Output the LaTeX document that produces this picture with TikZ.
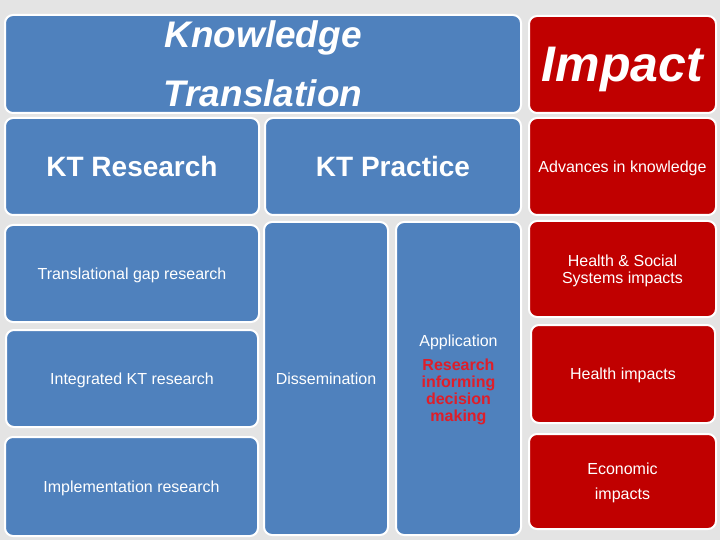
\documentclass[tikz,border=0pt]{standalone}
\usepackage{fontspec}
\setmainfont{Liberation Sans}
\definecolor{ktblue}{RGB}{79,129,189}
\definecolor{ktred}{RGB}{192,0,0}
\definecolor{ktpink}{RGB}{222,30,42}
\definecolor{ktback}{RGB}{228,228,228}
\newcommand{\rd}[1]{\textcolor{ktpink}{\bfseries #1}}
\begin{document}
\begin{tikzpicture}[x=1pt,y=-1pt,
    tile/.style={rectangle,rounded corners=8pt,draw=white,line width=2pt,
      inner sep=0pt,text=white,align=center,text depth=0pt,
      font=\fontsize{16}{17}\selectfont},
    bluetile/.style={tile,fill=ktblue},
    redtile/.style={tile,fill=ktred},
    bigtext/.style={font=\fontsize{28}{34}\selectfont\bfseries}]
  \useasboundingbox (0,0) rectangle (720,540);
  \fill[ktback] (0,0) rectangle (720,540);
  % blue side
  \node[bluetile,minimum width=516,minimum height=98,
    font=\fontsize{37}{59}\selectfont\bfseries\itshape] (kt) at (263,64)
    {Knowledge\\Translation};
  \node[bluetile,bigtext,minimum width=254,minimum height=97] (ktr) at (132,166.5) {KT Research};
  \node[bluetile,bigtext,minimum width=256,minimum height=97] (ktp) at (393,166.5) {KT Practice};
  \node[bluetile,minimum width=254,minimum height=97] (gap) at (132,273.5) {Translational gap research};
  \node[bluetile,minimum width=252,minimum height=97] (ikt) at (132,378.5) {Integrated KT research};
  \node[bluetile,minimum width=253,minimum height=99] (impl) at (131.5,486.5) {Implementation research};
  \node[bluetile,minimum width=124,minimum height=313] (dis) at (326,378.5) {Dissemination};
  \node[bluetile,minimum width=125,minimum height=313] (app) at (458.5,378.5)
    {Application\\[7pt]\rd{Research}\\\rd{informing}\\\rd{decision}\\\rd{making}};
  % red side
  \node[redtile,minimum width=187,minimum height=97,
    font=\fontsize{50}{60}\selectfont\bfseries\itshape] (imp) at (622.5,64.5) {Impact};
  \node[redtile,minimum width=187,minimum height=97] (adv) at (622.5,166.5) {Advances in knowledge};
  \node[redtile,minimum width=187,minimum height=96] (hss) at (622.5,269) {Health \& Social\\Systems impacts};
  \node[redtile,minimum width=184,minimum height=98] (hi) at (623,374) {Health impacts};
  \node[redtile,minimum width=187,minimum height=95,
    font=\fontsize{16}{25}\selectfont] (eco) at (622.5,481.5) {Economic\\impacts};
\end{tikzpicture}
\end{document}
